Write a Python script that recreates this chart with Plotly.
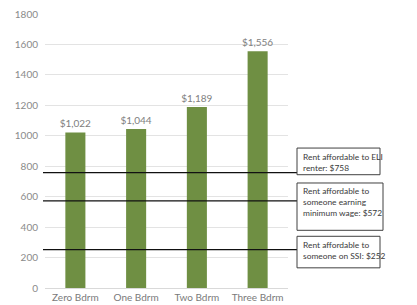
import plotly.graph_objects as go

categories = ["Zero Bdrm", "One Bdrm", "Two Bdrm", "Three Bdrm"]
rents = [1022, 1044, 1189, 1556]
rent_labels = ["$1,022", "$1,044", "$1,189", "$1,556"]
afford_values = [758, 572, 252]
afford_texts = [
    "Rent affordable to ELI<br>renter: $758",
    "Rent affordable to<br>someone earning<br>minimum wage: $572",
    "Rent affordable to<br>someone on SSI: $252",
]
y_ticks = [0, 200, 400, 600, 800, 1000, 1200, 1400, 1600, 1800]

W, H = 417, 305
L, R, T, B = 45, 129, 14, 16.5
pw = W - L - R
ph = H - T - B

def px_x(x):
    return (x - L) / pw

def px_y(y):
    return (H - B - y) / ph

fig = go.Figure()
fig.add_trace(go.Bar(
    x=categories, y=rents, width=0.33,
    marker=dict(color="#6f8f43", line=dict(width=0)),
    text=rent_labels, textposition="outside", cliponaxis=False,
    constraintext="none",
    textfont=dict(size=10, color="#808080", family="Lato"),
    outsidetextfont=dict(size=10, color="#808080", family="Lato"),
))

shapes = []
for v in afford_values:
    shapes.append(dict(type="line", xref="paper", yref="y",
                       x0=px_x(43), x1=px_x(297), y0=v, y1=v,
                       line=dict(color="#111111", width=1.3)))

boxes = [(148.3, 175.0, 380), (183.3, 230.7, 383), (236.7, 268.3, 380)]
annotations = []
for (top, bot, right), txt in zip(boxes, afford_texts):
    shapes.append(dict(type="rect", xref="paper", yref="paper",
                       x0=px_x(297), x1=px_x(right), y0=px_y(bot), y1=px_y(top),
                       line=dict(color="#404040", width=1), fillcolor="white"))
    annotations.append(dict(xref="paper", yref="paper", x=px_x(301), y=px_y(top + 1.5),
                            xanchor="left", yanchor="top", align="left", showarrow=False,
                            text=txt, font=dict(size=8.4, color="#3a3a3a", family="Lato")))

fig.update_layout(
    width=W, height=H,
    margin=dict(l=L, r=R, t=T, b=B, autoexpand=False),
    paper_bgcolor="white", plot_bgcolor="white",
    showlegend=False,
    font=dict(family="Lato", size=10, color="#888888"),
    shapes=shapes, annotations=annotations,
    bargap=0.67,
)
fig.update_yaxes(range=[0, 1800], tickvals=y_ticks, showgrid=True, gridcolor="#e3e3e3",
                 gridwidth=1, zeroline=False, showline=False, ticks="", automargin=False,
                 tickfont=dict(size=10, color="#8a8a8a"), ticklabelstandoff=6)
fig.update_xaxes(showgrid=False, showline=True, linecolor="#d9d9d9", ticks="", automargin=False,
                 tickfont=dict(size=10, color="#7a7a7a"))

fig.write_html("out.html", config={"displayModeBar": False},
               post_script="document.body.style.margin='0';document.body.style.overflow='hidden';")
